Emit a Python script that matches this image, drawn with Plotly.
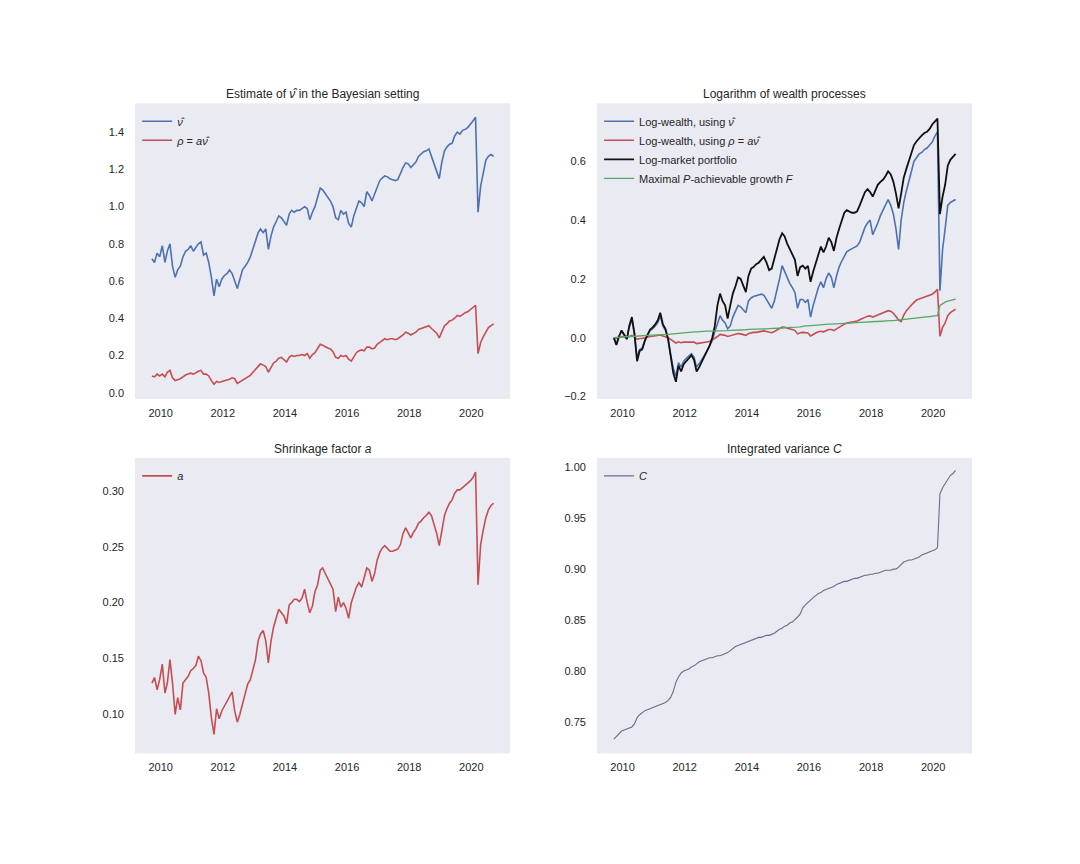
import pandas as pd
import plotly.graph_objects as go

# monthly samples, Sep 2009 .. Sep 2020 (one row per year, Sep..Aug)
dates = pd.date_range("2009-09-01", periods=133, freq="MS") + pd.Timedelta(days=19)

nu_hat = [0.72, 0.70, 0.75, 0.73, 0.79, 0.70, 0.76, 0.80, 0.68, 0.62, 0.66, 0.68,
          0.73, 0.76, 0.77, 0.79, 0.76, 0.78, 0.80, 0.81, 0.74, 0.75, 0.70, 0.62,
          0.52, 0.61, 0.57, 0.61, 0.63, 0.64, 0.66, 0.64, 0.60, 0.56, 0.61, 0.66,
          0.68, 0.70, 0.73, 0.77, 0.81, 0.86, 0.88, 0.86, 0.88, 0.77, 0.84, 0.89,
          0.92, 0.95, 0.94, 0.92, 0.90, 0.96, 0.98, 0.97, 0.98, 0.98, 0.99, 1.00,
          0.99, 0.93, 0.97, 1.00, 1.05, 1.10, 1.09, 1.07, 1.05, 1.03, 1.00, 0.94,
          0.93, 0.98, 0.96, 0.97, 0.91, 0.89, 0.95, 0.99, 1.03, 1.02, 1.00, 1.08,
          1.06, 1.03, 1.07, 1.10, 1.14, 1.155, 1.165, 1.16, 1.15, 1.145, 1.14, 1.145,
          1.18, 1.21, 1.235, 1.23, 1.21, 1.225, 1.24, 1.27, 1.28, 1.295, 1.30, 1.31,
          1.27, 1.23, 1.20, 1.15, 1.24, 1.30, 1.32, 1.335, 1.34, 1.38, 1.40, 1.39,
          1.41, 1.415, 1.425, 1.44, 1.46, 1.48, 0.97, 1.11, 1.18, 1.25, 1.27, 1.28,
          1.27]

rho = [0.09, 0.085, 0.10, 0.09, 0.10, 0.085, 0.11, 0.12, 0.08, 0.065, 0.07, 0.075,
       0.085, 0.095, 0.10, 0.105, 0.10, 0.11, 0.115, 0.12, 0.10, 0.10, 0.09, 0.065,
       0.045, 0.06, 0.055, 0.06, 0.065, 0.066, 0.072, 0.08, 0.075, 0.05, 0.058, 0.066,
       0.075, 0.085, 0.093, 0.11, 0.125, 0.14, 0.155, 0.148, 0.14, 0.11, 0.135, 0.16,
       0.17, 0.185, 0.19, 0.175, 0.165, 0.19, 0.20, 0.195, 0.20, 0.20, 0.205, 0.20,
       0.21, 0.185, 0.205, 0.215, 0.24, 0.26, 0.255, 0.245, 0.24, 0.235, 0.22, 0.19,
       0.185, 0.20, 0.195, 0.20, 0.18, 0.17, 0.195, 0.215, 0.225, 0.23, 0.225, 0.245,
       0.245, 0.235, 0.24, 0.26, 0.27, 0.28, 0.29, 0.285, 0.29, 0.29, 0.285, 0.29,
       0.30, 0.31, 0.325, 0.32, 0.31, 0.32, 0.325, 0.34, 0.345, 0.35, 0.355, 0.36,
       0.345, 0.33, 0.32, 0.295, 0.33, 0.36, 0.37, 0.385, 0.39, 0.40, 0.415, 0.41,
       0.42, 0.43, 0.435, 0.445, 0.455, 0.47, 0.21, 0.27, 0.30, 0.33, 0.35, 0.36,
       0.37]

logw_nu = [0.00, -0.022, 0.004, 0.022, 0.008, -0.005, 0.035, 0.062, 0.012, -0.07, -0.04, -0.035,
           -0.01, 0.01, 0.024, 0.03, 0.04, 0.052, 0.075, 0.04, 0.025, -0.005, -0.058, -0.105,
           -0.13, -0.085, -0.10, -0.08, -0.07, -0.062, -0.054, -0.066, -0.10, -0.088, -0.072, -0.06,
           -0.045, -0.03, -0.01, 0.02, 0.05, 0.075, 0.06, 0.05, 0.03, 0.04, 0.07, 0.09,
           0.11, 0.105, 0.095, 0.085, 0.125, 0.135, 0.14, 0.142, 0.145, 0.148, 0.145, 0.13,
           0.115, 0.10, 0.125, 0.16, 0.20, 0.245, 0.225, 0.205, 0.185, 0.17, 0.154, 0.10,
           0.13, 0.13, 0.12, 0.13, 0.07, 0.11, 0.14, 0.17, 0.19, 0.17, 0.20, 0.22,
           0.205, 0.17, 0.21, 0.24, 0.26, 0.278, 0.292, 0.298, 0.302, 0.307, 0.312, 0.325,
           0.35, 0.375, 0.39, 0.40, 0.35, 0.37, 0.39, 0.415, 0.434, 0.45, 0.47, 0.45,
           0.42, 0.37, 0.30, 0.40, 0.46, 0.50, 0.535, 0.566, 0.60, 0.615, 0.625, 0.63,
           0.64, 0.645, 0.655, 0.665, 0.685, 0.70, 0.16, 0.30, 0.37, 0.45, 0.46, 0.465,
           0.47]

logw_rho = [0.0, -0.002, 0.003, 0.004, 0.003, 0.0, 0.005, 0.008, 0.003, -0.006, -0.003, -0.003,
            0.0, 0.003, 0.004, 0.005, 0.006, 0.007, 0.009, 0.006, 0.004, 0.0, -0.006, -0.012,
            -0.018, -0.014, -0.017, -0.015, -0.015, -0.014, -0.013, -0.015, -0.02, -0.019, -0.018, -0.017,
            -0.016, -0.013, -0.008, -0.003, 0.004, 0.011, 0.01, 0.008, 0.004, 0.006, 0.009, 0.011,
            0.014, 0.013, 0.011, 0.008, 0.014, 0.017, 0.018, 0.018, 0.019, 0.021, 0.023, 0.021,
            0.018, 0.017, 0.021, 0.026, 0.031, 0.036, 0.035, 0.032, 0.03, 0.027, 0.025, 0.013,
            0.017, 0.018, 0.016, 0.016, 0.006, 0.012, 0.016, 0.02, 0.022, 0.02, 0.024, 0.028,
            0.028, 0.024, 0.03, 0.036, 0.042, 0.046, 0.05, 0.051, 0.053, 0.055, 0.057, 0.06,
            0.065, 0.069, 0.073, 0.074, 0.07, 0.074, 0.077, 0.081, 0.085, 0.088, 0.092, 0.09,
            0.083, 0.072, 0.06, 0.055, 0.077, 0.092, 0.103, 0.111, 0.12, 0.128, 0.132, 0.135,
            0.138, 0.14, 0.143, 0.148, 0.155, 0.165, 0.005, 0.035, 0.05, 0.075, 0.085, 0.09,
            0.097]

log_market = [0.00, -0.025, 0.005, 0.025, 0.01, -0.005, 0.04, 0.07, 0.015, -0.08, -0.045, -0.04,
              -0.01, 0.012, 0.028, 0.035, 0.045, 0.06, 0.085, 0.045, 0.03, -0.005, -0.065, -0.12,
              -0.15, -0.095, -0.115, -0.09, -0.08, -0.07, -0.06, -0.075, -0.115, -0.10, -0.08, -0.065,
              -0.045, -0.027, 0.0, 0.04, 0.11, 0.15, 0.125, 0.11, 0.065, 0.11, 0.15, 0.175,
              0.205, 0.20, 0.18, 0.155, 0.21, 0.235, 0.24, 0.25, 0.255, 0.265, 0.275, 0.255,
              0.23, 0.235, 0.27, 0.31, 0.335, 0.355, 0.345, 0.32, 0.30, 0.285, 0.265, 0.21,
              0.24, 0.245, 0.235, 0.244, 0.19, 0.225, 0.255, 0.28, 0.31, 0.29, 0.31, 0.34,
              0.325, 0.295, 0.34, 0.37, 0.395, 0.425, 0.434, 0.428, 0.425, 0.425, 0.43, 0.45,
              0.47, 0.495, 0.505, 0.495, 0.48, 0.504, 0.52, 0.53, 0.537, 0.55, 0.566, 0.555,
              0.53, 0.49, 0.44, 0.49, 0.545, 0.575, 0.60, 0.628, 0.655, 0.668, 0.68, 0.688,
              0.696, 0.70, 0.71, 0.725, 0.735, 0.745, 0.42, 0.48, 0.52, 0.585, 0.605, 0.615,
              0.625]

growth_F = [0.000, 0.001, 0.002, 0.002, 0.003, 0.003, 0.004, 0.004, 0.005, 0.006, 0.007, 0.007,
            0.008, 0.008, 0.009, 0.009, 0.009, 0.010, 0.010, 0.010, 0.011, 0.011, 0.012, 0.013,
            0.015, 0.016, 0.017, 0.018, 0.018, 0.019, 0.019, 0.020, 0.020, 0.021, 0.021, 0.021,
            0.022, 0.022, 0.022, 0.023, 0.023, 0.023, 0.024, 0.024, 0.024, 0.025, 0.025, 0.026,
            0.026, 0.027, 0.027, 0.027, 0.028, 0.028, 0.029, 0.029, 0.029, 0.030, 0.030, 0.030,
            0.031, 0.031, 0.031, 0.032, 0.033, 0.033, 0.034, 0.034, 0.035, 0.035, 0.036, 0.036,
            0.037, 0.039, 0.040, 0.040, 0.041, 0.042, 0.043, 0.043, 0.044, 0.045, 0.045, 0.046,
            0.046, 0.047, 0.047, 0.048, 0.048, 0.049, 0.049, 0.050, 0.050, 0.051, 0.051, 0.052,
            0.052, 0.053, 0.053, 0.054, 0.054, 0.055, 0.055, 0.056, 0.056, 0.057, 0.057, 0.058,
            0.058, 0.059, 0.060, 0.061, 0.062, 0.063, 0.064, 0.064, 0.065, 0.066, 0.067, 0.068,
            0.069, 0.070, 0.071, 0.072, 0.073, 0.075, 0.110, 0.117, 0.121, 0.124, 0.127, 0.129,
            0.131]

shrink_a = [0.128, 0.133, 0.122, 0.131, 0.145, 0.119, 0.128, 0.149, 0.128, 0.100, 0.115, 0.104,
            0.128, 0.131, 0.134, 0.139, 0.141, 0.144, 0.152, 0.148, 0.137, 0.133, 0.119, 0.097,
            0.082, 0.105, 0.096, 0.103, 0.107, 0.112, 0.115, 0.120, 0.103, 0.093, 0.100, 0.110,
            0.119, 0.127, 0.131, 0.140, 0.149, 0.166, 0.172, 0.175, 0.166, 0.146, 0.165, 0.178,
            0.186, 0.194, 0.191, 0.188, 0.181, 0.198, 0.200, 0.203, 0.203, 0.201, 0.204, 0.212,
            0.200, 0.191, 0.197, 0.210, 0.216, 0.229, 0.231, 0.226, 0.221, 0.217, 0.212, 0.192,
            0.205, 0.196, 0.200, 0.195, 0.186, 0.200, 0.208, 0.214, 0.218, 0.214, 0.222, 0.231,
            0.229, 0.219, 0.226, 0.238, 0.245, 0.249, 0.251, 0.248, 0.246, 0.246, 0.247, 0.248,
            0.252, 0.262, 0.267, 0.263, 0.258, 0.263, 0.266, 0.271, 0.273, 0.276, 0.278, 0.281,
            0.278, 0.270, 0.262, 0.251, 0.266, 0.278, 0.284, 0.289, 0.292, 0.298, 0.301, 0.301,
            0.303, 0.305, 0.307, 0.309, 0.312, 0.317, 0.216, 0.252, 0.265, 0.276, 0.283, 0.287,
            0.289]

int_var_C = [0.733, 0.736, 0.739, 0.741, 0.742, 0.743, 0.744, 0.745, 0.748, 0.754, 0.757, 0.759,
             0.761, 0.762, 0.763, 0.764, 0.765, 0.766, 0.767, 0.768, 0.769, 0.771, 0.774, 0.780,
             0.789, 0.794, 0.798, 0.800, 0.801, 0.802, 0.804, 0.805, 0.807, 0.809, 0.810, 0.811,
             0.812, 0.813, 0.813, 0.814, 0.815, 0.815, 0.816, 0.817, 0.818, 0.820, 0.822, 0.824,
             0.825, 0.826, 0.827, 0.828, 0.829, 0.830, 0.831, 0.832, 0.833, 0.833, 0.834, 0.835,
             0.835, 0.836, 0.837, 0.839, 0.841, 0.842, 0.844, 0.845, 0.847, 0.848, 0.850, 0.853,
             0.856, 0.862, 0.865, 0.867, 0.869, 0.872, 0.874, 0.876, 0.877, 0.879, 0.880, 0.881,
             0.882, 0.883, 0.885, 0.886, 0.887, 0.888, 0.888, 0.889, 0.890, 0.891, 0.891, 0.892,
             0.893, 0.894, 0.894, 0.895, 0.895, 0.896, 0.896, 0.897, 0.898, 0.899, 0.899, 0.899,
             0.900, 0.900, 0.902, 0.905, 0.907, 0.908, 0.909, 0.909, 0.910, 0.911, 0.912, 0.914,
             0.915, 0.916, 0.917, 0.918, 0.919, 0.921, 0.974, 0.980, 0.984, 0.989, 0.992, 0.994,
             0.997]

year_ticks = ["2010-01-01", "2012-01-01", "2014-01-01", "2016-01-01", "2018-01-01", "2020-01-01"]
year_labels = ["2010", "2012", "2014", "2016", "2018", "2020"]

BLUE = "#4C72B0"
RED = "#C44E52"
GREEN = "#55A868"
TXT = "#262626"
FONT = "Liberation Sans"

fig = go.Figure()

def add_line(y, name, color, xa, ya, leg, width=1.6):
    fig.add_trace(go.Scatter(x=dates, y=y, name=name, mode="lines",
                             line=dict(color=color, width=width),
                             xaxis=xa, yaxis=ya, legend=leg))

add_line(nu_hat, "<i>ν̂</i>", BLUE, "x", "y", "legend")
add_line(rho, "<i>ρ</i> = <i>a</i><i>ν̂</i>", RED, "x", "y", "legend")

add_line(logw_nu, "Log-wealth, using <i>ν̂</i>", BLUE, "x2", "y2", "legend2")
add_line(logw_rho, "Log-wealth, using <i>ρ</i> = <i>a</i><i>ν̂</i>", RED, "x2", "y2", "legend2")
add_line(log_market, "Log-market portfolio", "#111111", "x2", "y2", "legend2", 1.8)
add_line(growth_F, "Maximal <i>P</i>-achievable growth <i>F</i>", GREEN, "x2", "y2", "legend2", 1.3)

add_line(shrink_a, "<i>a</i>", RED, "x3", "y3", "legend3")
add_line(int_var_C, "<i>C</i>", "#6E6A88", "x4", "y4", "legend4", 1.1)

# page body has an 8px margin, so domains are nudged left/up by 8px
dx = 8 / 1080
dy = 8 / 864
xl = [0.125 - dx, 0.4723 - dx]
xr = [0.5527 - dx, 0.9 - dx]
yt = [0.5368 + dy, 0.88 + dy]
yb = [0.125 + dy, 0.4682 + dy]
xrange = ["2009-03-05", "2021-04-01"]

def xaxis(dom, anchor):
    return dict(domain=dom, anchor=anchor, range=xrange, type="date",
                tickvals=year_ticks, ticktext=year_labels, showgrid=False,
                zeroline=False, showline=False, ticks="", ticklabelstandoff=6,
                tickfont=dict(size=11, color=TXT, family=FONT))

def yaxis(dom, anchor, rng, dtick, fmt):
    return dict(domain=dom, anchor=anchor, range=rng, dtick=dtick, tick0=0,
                tickformat=fmt, showgrid=False, zeroline=False, showline=False,
                ticks="", ticklabelstandoff=10,
                tickfont=dict(size=11, color=TXT, family=FONT))

def legend(x, y):
    return dict(x=x, y=y, xanchor="left", yanchor="top", bgcolor="rgba(0,0,0,0)",
                font=dict(size=11, color=TXT, family=FONT), tracegroupgap=0)

fig.update_layout(
    width=1080, height=864,
    margin=dict(l=0, r=0, t=0, b=0),
    paper_bgcolor="white",
    plot_bgcolor="#EAEAF2",
    font=dict(family=FONT, color=TXT),
    xaxis=xaxis(xl, "y"), yaxis=yaxis(yt, "x", [-0.033, 1.555], 0.2, ".1f"),
    xaxis2=xaxis(xr, "y2"), yaxis2=yaxis(yt, "x2", [-0.208, 0.797], 0.2, ".1f"),
    xaxis3=xaxis(xl, "y3"), yaxis3=yaxis(yb, "x3", [0.065, 0.3296], 0.05, ".2f"),
    xaxis4=xaxis(xr, "y4"), yaxis4=yaxis(yb, "x4", [0.719, 1.0093], 0.05, ".2f"),
    legend=legend(xl[0] + 0.002, yt[1] - 0.004),
    legend2=legend(xr[0] + 0.002, yt[1] - 0.004),
    legend3=legend(xl[0] + 0.002, yb[1] - 0.004),
    legend4=legend(xr[0] + 0.002, yb[1] - 0.004),
    showlegend=True,
)

titles = [("Estimate of <i>ν̂</i> in the Bayesian setting", sum(xl) / 2, yt[1]),
          ("Logarithm of wealth processes", sum(xr) / 2, yt[1]),
          ("Shrinkage factor <i>a</i>", sum(xl) / 2, yb[1]),
          ("Integrated variance <i>C</i>", sum(xr) / 2, yb[1])]
for text, x, y in titles:
    fig.add_annotation(text=text, x=x, y=y, xref="paper", yref="paper",
                       xanchor="center", yanchor="bottom", yshift=0, showarrow=False,
                       font=dict(size=12, color=TXT, family=FONT))

fig.write_html("out.html")
